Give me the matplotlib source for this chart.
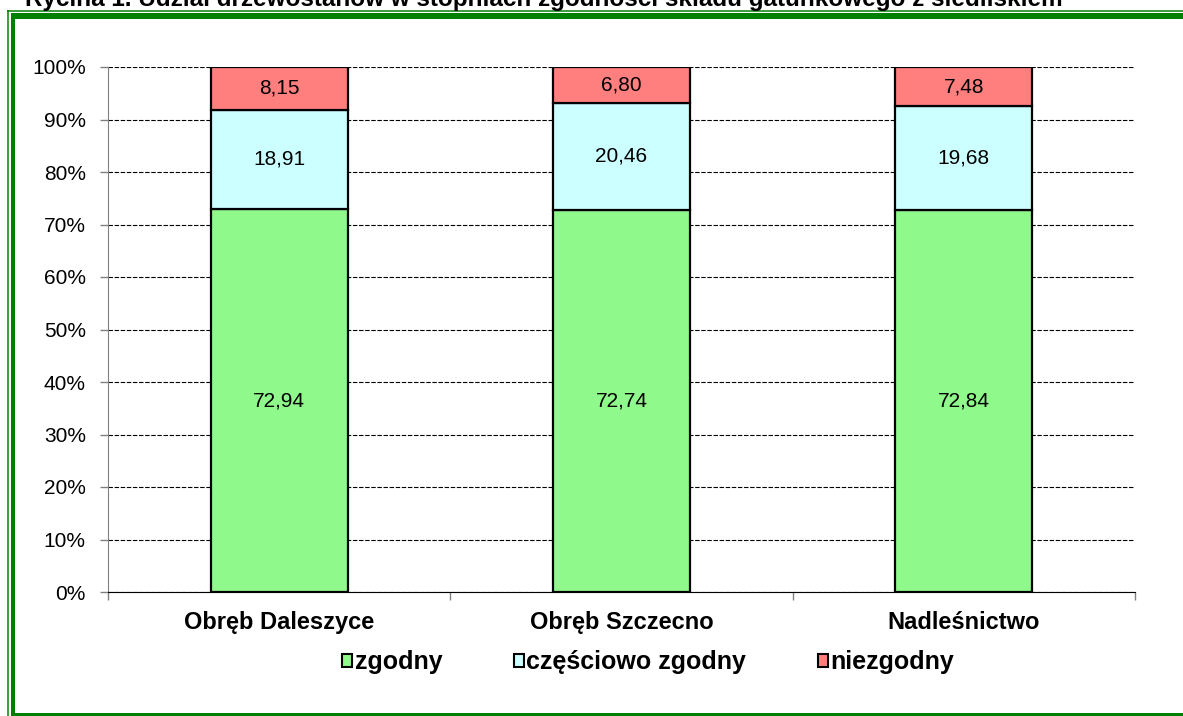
"""Udział drzewostanów w stopniach zgodności składu gatunkowego z siedliskiem"""

import matplotlib
matplotlib.use("Agg")
import matplotlib.pyplot as plt
from matplotlib.lines import Line2D
from matplotlib.patches import Patch
from matplotlib.ticker import FuncFormatter, MultipleLocator

plt.rcParams["font.family"] = ["Liberation Sans", "DejaVu Sans"]

categories = ["Obręb Daleszyce", "Obręb Szczecno", "Nadleśnictwo"]
series_names = ["zgodny", "częściowo zgodny", "niezgodny"]
zgodny = [72.94, 72.74, 72.84]
czesciowo = [18.91, 20.46, 19.68]
niezgodny = [8.15, 6.80, 7.48]
colors = ["#8ff98b", "#ccffff", "#ff7f7f"]

W, H = 1183, 716
fig = plt.figure(figsize=(W / 100, H / 100), dpi=100)
ax = fig.add_axes([108 / W, 1 - 592 / H, (1135 - 108) / W, (592 - 67) / H])

x = list(range(len(categories)))
bottom = [0.0] * len(categories)
for vals, col in zip([zgodny, czesciowo, niezgodny], colors):
    bars = ax.bar(x, vals, width=0.4, bottom=bottom, color=col,
                  edgecolor="black", linewidth=1.6, zorder=3)
    for b, v, y0 in zip(bars, vals, bottom):
        ax.text(b.get_x() + b.get_width() / 2, y0 + v / 2,
                f"{v:.2f}".replace(".", ","), ha="center", va="center",
                fontsize=15, zorder=4)
    bottom = [a + b for a, b in zip(bottom, vals)]

ax.set_xlim(-0.5, 2.5)
ax.set_ylim(0, 100)
ax.yaxis.set_major_locator(MultipleLocator(10))
ax.yaxis.set_major_formatter(FuncFormatter(lambda v, p: f"{v:.0f}%"))
ax.grid(axis="y", color="black", linewidth=0.8, linestyle=(0, (4, 1.5)), zorder=1)

ax.set_xticks(x)
ax.set_xticklabels(categories, fontsize=17, fontweight="bold")
ax.set_xticks([-0.5, 0.5, 1.5, 2.5], minor=True)
ax.tick_params(axis="x", which="major", length=0, pad=14)
ax.tick_params(axis="x", which="minor", length=6, color="#808080", width=1)
ax.tick_params(axis="y", length=6, color="#808080", width=1, labelsize=15, pad=10)

for side in ["top", "right"]:
    ax.spines[side].set_visible(False)
ax.spines["left"].set_color("#808080")
ax.spines["bottom"].set_color("black")
ax.spines["bottom"].set_zorder(5)

handles = [Patch(facecolor=c, edgecolor="black", linewidth=1.5) for c in colors]
fig.legend(handles, series_names, loc="center", bbox_to_anchor=(648 / W, 1 - 662 / H),
           ncol=3, frameon=False, prop={"size": 18, "weight": "bold"},
           handlelength=0.42, handleheight=0.42, handletextpad=0.1,
           columnspacing=2.85, borderaxespad=0)

fig.text(25 / W, 1 - 6 / H,
         "Rycina 1. Udział drzewostanów w stopniach zgodności składu gatunkowego z siedliskiem",
         fontsize=17.5, fontweight="bold", va="baseline", ha="left")

# green double border around the chart
green = "#008000"
def px_line(xs, ys, lw):
    fig.add_artist(Line2D([v / W for v in xs], [1 - v / H for v in ys],
                          color=green, linewidth=lw * 0.72, solid_capstyle="butt"))

px_line([7, W + 5], [11, 11], 1.5)
px_line([7.5, 7.5], [10, H + 5], 1.5)
px_line([11, W + 5], [16, 16], 6)
px_line([13, 13], [13, H + 5], 4)
px_line([11, W + 5], [714.5, 714.5], 4)

fig.savefig("out.png", dpi=100)
